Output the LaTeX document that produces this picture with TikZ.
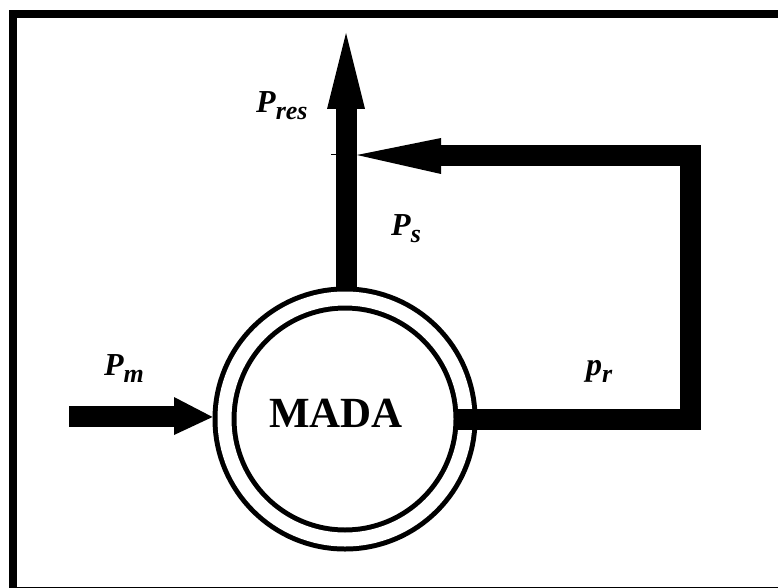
\documentclass[tikz,border=0pt]{standalone}
\usepackage{fontspec}
\setmainfont{Liberation Serif}
\tikzset{
  lab/.style={inner sep=0pt, anchor=base west, font=\fontsize{32}{32}\selectfont\bfseries\itshape},
  power/.style={line width=21pt, draw=black},
  head/.style={fill=black},
  machine/.style={circle, draw=black, line width=5pt, double=white, double distance=14pt, minimum size=241pt, inner sep=0pt, outer sep=0pt},
}
\newcommand{\sbx}[1]{\raisebox{-7pt}{\fontsize{26}{26}\selectfont #1}}
\begin{document}
\begin{tikzpicture}[x=1pt,y=-1pt]
\useasboundingbox (0,0) rectangle (778,588);
\clip (0,0) rectangle (778,588);
% frame
\draw[line width=8pt] (13,14) rectangle (800,590.5);
% machine
\node[machine] (m) at (345,419) {};
\node[inner sep=0pt, anchor=base west, font=\fontsize{43}{43}\selectfont\bfseries] (mada) at (269,427) {MADA};
% coordinates
\coordinate (pmstart) at (69,416);
\coordinate (pmbase) at (174,416);
\coordinate (pmtip) at (212.5,417);
\coordinate (psstart) at (346,288);
\coordinate (psbase) at (346,109);
\coordinate (pstip) at (346,33);
\coordinate (prstart) at (455,419);
\coordinate (prcorner1) at (690,419);
\coordinate (prcorner2) at (690,156);
\coordinate (prbase) at (441,156);
\coordinate (prtip) at (357,155);
\coordinate (tickA) at (331,155);
\coordinate (tickB) at (337,155);
% connectors
\draw[power] (pmstart) -- (pmbase);
\fill[head] (pmtip) -- ([yshift=-19pt]pmbase) -- ([yshift=19pt]pmbase) -- cycle;
\draw[power] (psstart) -- (psbase);
\fill[head] (pstip) -- ([xshift=-19pt]psbase) -- ([xshift=19pt]psbase) -- cycle;
\draw[power, miter limit=10] (prstart) -- (prcorner1) -- (prcorner2) -- (prbase);
\fill[head] (prtip) -- ([yshift=-18pt]prbase) -- ([yshift=18pt]prbase) -- cycle;
\draw[line width=1pt] (tickA) -- (tickB);
% labels
\node[lab] (lres) at (256,113) {P\sbx{res}};
\node[lab] (ls) at (391,235) {P\sbx{s}};
\node[lab] (lm) at (104,375) {P\sbx{m}};
\node[lab] (lr) at (586,375) {p\sbx{r}};
\end{tikzpicture}
\end{document}
